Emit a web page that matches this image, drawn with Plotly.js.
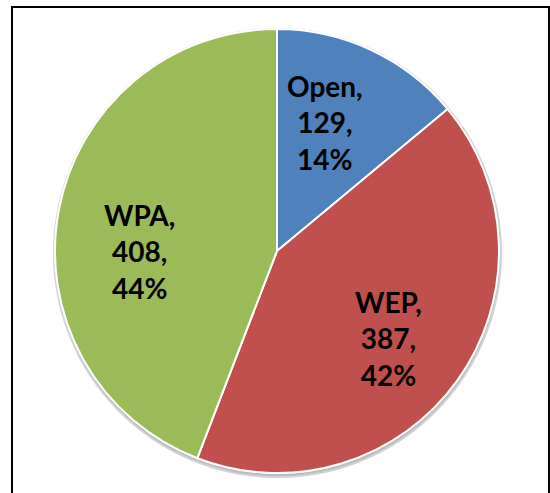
<!DOCTYPE html>
<html>
<head>
<meta charset="utf-8">
<script src="https://cdn.plot.ly/plotly-3.0.1.min.js"></script>
<style>html,body{margin:0;padding:0;background:#fff;}#chart{width:550px;height:493px;}</style>
</head>
<body>
<div id="chart"></div>
<script>
const categories = ["Open", "WEP", "WPA"];
const values = [129, 387, 408];
const colors = ["#4F81BD", "#C0504D", "#9BBB59"];

const W = 550, H = 493;
const cx = 277, cy = 251, r = 222;

const trace = {
  type: "pie",
  labels: categories,
  values: values,
  sort: false,
  direction: "clockwise",
  rotation: 0,
  marker: { colors: colors, line: { color: "#ffffff", width: 2 } },
  textinfo: "none",
  textposition: "none",
  hoverinfo: "none",
  showlegend: false,
  domain: {
    x: [(cx - r) / W, (cx + r) / W],
    y: [(H - cy - r) / H, (H - cy + r) / H]
  }
};

// label placement derived from the data (mid-angle of each slice)
const total = values.reduce((a, b) => a + b, 0);
const labelShift = [[-11, 2], [-2, -6], [0, -26]]; // fine placement tweaks in px
let cum = 0;
const annotations = categories.map((c, i) => {
  const mid = (cum + values[i] / 2) / total * 2 * Math.PI;
  cum += values[i];
  const pct = Math.round(values[i] / total * 100);
  const px = cx + 0.63 * r * Math.sin(mid);
  const py = cy - 0.63 * r * Math.cos(mid);
  return {
    xref: "paper", yref: "paper",
    x: px / W, y: (H - py) / H,
    xanchor: "center", yanchor: "middle",
    xshift: labelShift[i][0], yshift: labelShift[i][1],
    showarrow: false,
    align: "center",
    text: c + ",<br>" + values[i] + ",<br>" + pct + "%",
    font: { family: "Lato, 'Open Sans', sans-serif", size: 28, color: "#000000", weight: "bold" }
  };
});

const layout = {
  width: W, height: H,
  margin: { l: 0, r: 0, t: 0, b: 0 },
  paper_bgcolor: "#ffffff",
  showlegend: false,
  annotations: annotations,
  shapes: [
    {
      type: "circle", xref: "paper", yref: "paper", layer: "below",
      x0: (cx - r) / W, x1: (cx + r + 1) / W,
      y0: (H - cy - r - 3) / H, y1: (H - cy + r - 1) / H,
      line: { color: "rgba(0,0,0,0.18)", width: 4 }, fillcolor: "rgba(0,0,0,0.1)"
    },
    {
      type: "rect", xref: "paper", yref: "paper",
      x0: 12 / W, x1: 549 / W, y0: -0.05, y1: (H - 7) / H,
      line: { color: "#000000", width: 2 }
    }
  ]
};

Plotly.newPlot("chart", [trace], layout, { staticPlot: true });
</script>
</body>
</html>
